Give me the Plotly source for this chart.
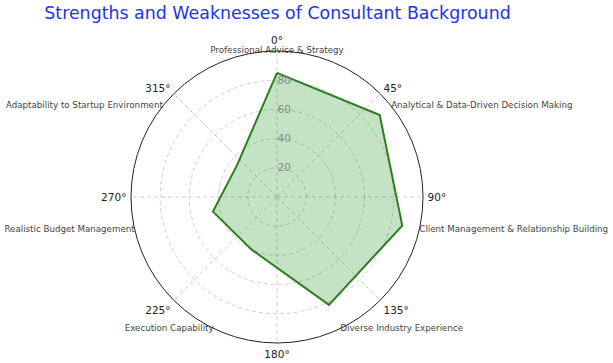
import plotly.graph_objects as go

categories = [
    "Professional Advice & Strategy",
    "Analytical & Data-Driven Decision Making",
    "Client Management & Relationship Building",
    "Diverse Industry Experience",
    "Execution Capability",
    "Realistic Budget Management",
    "Adaptability to Startup Environment",
]
values = [85, 90, 88, 82, 40, 45, 35]
degree_ticks = [0, 45, 90, 135, 180, 225, 270, 315]
degree_labels = ["0°", "45°", "90°", "135°", "180°", "225°", "270°", "315°"]
radial_ticks = [20, 40, 60, 80]

n = len(categories)
angles = [i * 360.0 / n for i in range(n)]

fig = go.Figure()
fig.add_trace(go.Scatterpolar(
    r=values + [values[0]],
    theta=angles + [angles[0]],
    mode="lines",
    fill="toself",
    fillcolor="rgba(0,128,0,0.23)",
    line=dict(color="#2e7d1e", width=2),
    showlegend=False,
    hoverinfo="skip",
))

positions = []
for a in angles:
    if a == 0:
        positions.append("middle center")
    elif a < 180:
        positions.append("middle right")
    else:
        positions.append("middle left")

fig.add_trace(go.Scatterpolar(
    r=[100] * n,
    theta=angles,
    mode="text",
    text=categories,
    textposition=positions,
    textfont=dict(family="DejaVu Sans", size=8.7, color="#444444"),
    cliponaxis=False,
    showlegend=False,
    hoverinfo="skip",
))

W, H = 613, 363
cx, cy, R = 277, 197, 146
fig.update_layout(
    width=W, height=H,
    margin=dict(l=0, r=0, t=0, b=0),
    paper_bgcolor="white",
    plot_bgcolor="white",
    title=dict(
        text="Strengths and Weaknesses of Consultant Background",
        x=277.5 / W, xanchor="center", y=1 - 13 / H, yanchor="middle",
        font=dict(family="DejaVu Sans", size=17.4, color="#2233ee"),
    ),
    polar=dict(
        domain=dict(x=[(cx - R) / W, (cx + R) / W], y=[(H - cy - R) / H, (H - cy + R) / H]),
        bgcolor="white",
        angularaxis=dict(
            direction="clockwise",
            rotation=90,
            tickmode="array",
            tickvals=degree_ticks,
            ticktext=degree_labels,
            ticks="outside",
            ticklen=2,
            tickcolor="rgba(0,0,0,0)",
            showline=True,
            linecolor="#222222",
            linewidth=1,
            showgrid=True,
            gridcolor="#cfcfcf",
            griddash="4px,3px",
            gridwidth=0.8,
            tickfont=dict(family="DejaVu Sans", size=10.5, color="#222222"),
        ),
        radialaxis=dict(
            range=[0, 100],
            tickmode="array",
            tickvals=radial_ticks,
            ticktext=[str(v) for v in radial_ticks],
            angle=90,
            tickangle=90,
            showline=False,
            ticks="",
            showgrid=True,
            gridcolor="#cfcfcf",
            griddash="4px,3px",
            gridwidth=0.8,
            tickfont=dict(family="DejaVu Sans", size=10.5, color="#888888"),
        ),
    ),
)

fig.write_html(
    "out.html",
    config={"displayModeBar": False},
    post_script="document.body.style.margin='0';",
)
